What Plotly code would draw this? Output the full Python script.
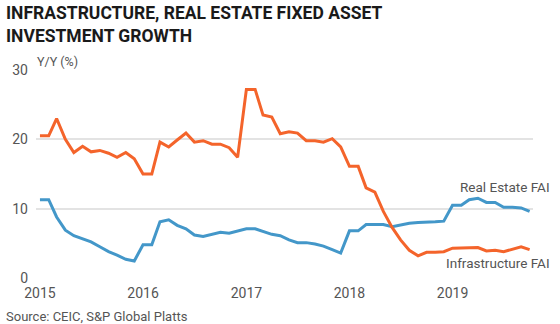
import plotly.graph_objects as go
import pandas as pd

dates = pd.date_range("2015-01-01", "2019-10-01", freq="MS")

real_estate = [11.3, 11.3, 8.8, 6.9, 6.1, 5.6, 5.2, 4.5, 3.8, 3.3, 2.7, 2.45,
               4.8, 4.8, 8.1, 8.4, 7.6, 7.1, 6.2, 6.0, 6.3, 6.6, 6.45, 6.8,
               7.1, 7.1, 6.7, 6.3, 6.1, 5.5, 5.1, 5.1, 4.9, 4.6, 4.1, 3.6,
               6.8, 6.8, 7.7, 7.7, 7.7, 7.4, 7.7, 7.9, 8.0, 8.0, 8.1, 8.2,
               10.5, 10.5, 11.3, 11.5, 10.9, 10.9, 10.2, 10.2, 10.1, 9.6]

infrastructure = [20.5, 20.5, 23.0, 20.0, 18.1, 19.0, 18.2, 18.4, 18.0, 17.4, 18.1, 17.2,
                  15.0, 15.0, 19.6, 18.9, 19.9, 20.9, 19.6, 19.8, 19.3, 19.3, 18.8, 17.4,
                  27.2, 27.2, 23.5, 23.2, 20.8, 21.1, 20.9, 19.8, 19.8, 19.6, 20.1, 18.9,
                  16.1, 16.1, 13.0, 12.4, 9.6, 7.3, 5.5, 4.0, 3.2, 3.7, 3.7, 3.8,
                  4.3, 4.3, 4.4, 4.4, 3.9, 4.0, 3.8, 4.2, 4.5, 4.1]

year_ticks = ["2015-01-01", "2016-01-01", "2017-01-01", "2018-01-01", "2019-01-01"]
year_labels = ["2015", "2016", "2017", "2018", "2019"]
y_ticks = [0, 10, 20, 30]

ORANGE = "#F4642B"
BLUE = "#4397C9"
GRAY = "#555555"
FONT = "Roboto"

fig = go.Figure()
fig.add_trace(go.Scatter(x=dates, y=real_estate, mode="lines",
                         line=dict(color=BLUE, width=3), name="Real Estate FAI"))
fig.add_trace(go.Scatter(x=dates, y=infrastructure, mode="lines",
                         line=dict(color=ORANGE, width=3), name="Infrastructure FAI"))

fig.update_layout(
    width=560, height=324,
    margin=dict(l=33, r=27, t=70, b=46),
    paper_bgcolor="white", plot_bgcolor="white",
    showlegend=False,
    font=dict(family=FONT, color=GRAY, size=14),
    xaxis=dict(type="date", range=["2014-12-18", "2019-10-13"],
               tickvals=year_ticks, ticktext=year_labels,
               showgrid=False, zeroline=False, showline=False, ticks="",
               tickfont=dict(size=14, color=GRAY), ticklabelstandoff=5),
    yaxis=dict(range=[0, 30], tickvals=y_ticks, showgrid=True,
               gridcolor="#e3e3e3", gridwidth=1.5, zeroline=False,
               ticks="", tickfont=dict(size=14, color=GRAY), ticklabelstandoff=7),
)

fig.add_annotation(text="<b>INFRASTRUCTURE, REAL ESTATE FIXED ASSET<br>INVESTMENT GROWTH</b>",
                   xref="paper", yref="paper", x=(1-33)/500, y=(278-1)/208,
                   xanchor="left", yanchor="top", align="left", showarrow=False,
                   font=dict(family="Roboto", size=17.5, color="#1a1a1a"))
fig.add_annotation(text="Y/Y (%)", xref="paper", yref="paper", x=-0.002, y=(278-62)/208,
                   xanchor="left", yanchor="middle", showarrow=False,
                   font=dict(size=12.5, color=GRAY))
fig.add_annotation(text="Real Estate FAI", xref="paper", yref="paper",
                   x=(552-33)/500, y=(278-187)/208, xanchor="right", yanchor="middle",
                   showarrow=False, font=dict(size=13.5, color=GRAY))
fig.add_annotation(text="Infrastructure FAI", xref="paper", yref="paper",
                   x=(552-33)/500, y=(278-263)/208, xanchor="right", yanchor="middle",
                   showarrow=False, font=dict(size=13.5, color=GRAY))
fig.add_annotation(text="Source: CEIC, S&P Global Platts", xref="paper", yref="paper",
                   x=(1-33)/500, y=(278-316)/208, xanchor="left", yanchor="middle",
                   showarrow=False, font=dict(size=13, color=GRAY))

fig.write_html("out.html")
